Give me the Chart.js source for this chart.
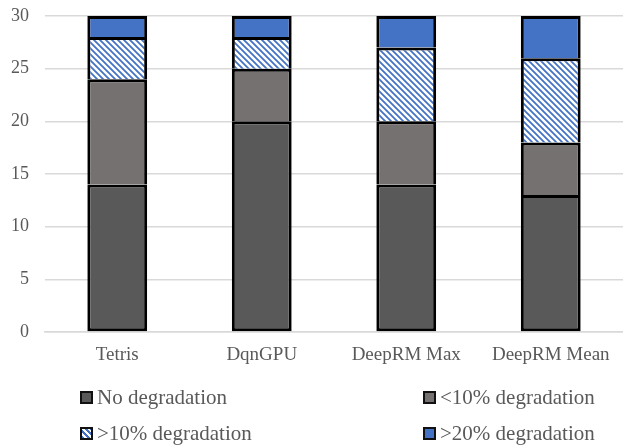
<!DOCTYPE html>
<html>
<head>
<meta charset="utf-8">
<script src="https://cdn.jsdelivr.net/npm/chart.js@4.4.1/dist/chart.umd.min.js"></script>
<style>
  html, body { margin: 0; padding: 0; background: #fff; }
  #wrap { position: relative; width: 623px; height: 446px; }
  #legend { position: absolute; left: 0; top: 0; width: 623px; height: 446px; pointer-events: none;
            font-family: "Liberation Serif", "Times New Roman", serif; font-size: 21px; color: #595959; }
  .item { position: absolute; display: flex; align-items: center; white-space: nowrap; }
  .box { width: 9px; height: 9px; border: 2px solid #111; margin-right: 4px; box-sizing: content-box; }
</style>
</head>
<body>
<div id="wrap">
  <canvas id="c" width="623" height="446"></canvas>
  <div id="legend"></div>
</div>
<script>
// Benchmarks and how many runs fall into each degradation bucket
const categories = ["Tetris", "DqnGPU", "DeepRM Max", "DeepRM Mean"];
const seriesNames = ["No degradation", "<10% degradation", ">10% degradation", ">20% degradation"];
const noDegradation = [14, 20, 14, 13];
const under10 = [10, 5, 6, 5];
const over10 = [4, 3, 7, 8];
const over20 = [2, 2, 3, 4];
const yTicks = [0, 5, 10, 15, 20, 25, 30];

// diagonal blue hatch for the ">10%" bucket
function hatch() {
  const s = 6;
  const p = document.createElement("canvas");
  p.width = s; p.height = s;
  const g = p.getContext("2d");
  g.fillStyle = "#ffffff";
  g.fillRect(0, 0, s, s);
  g.strokeStyle = "#4472C4";
  g.lineWidth = 1.8;
  g.beginPath();
  g.moveTo(-1, -1); g.lineTo(s + 1, s + 1);
  g.moveTo(-1, s - 1); g.lineTo(1, s + 1);
  g.moveTo(s - 1, -1); g.lineTo(s + 1, 1);
  g.stroke();
  return g.createPattern(p, "repeat");
}
const hatchFill = hatch();

const fills = ["#595959", "#767171", hatchFill, "#4472C4"];
const values = [noDegradation, under10, over10, over20];

const datasets = values.map((v, i) => ({
  label: seriesNames[i],
  data: v,
  backgroundColor: fills[i],
  borderColor: "#000000",
  borderWidth: i === 0 ? 3 : { top: 3, left: 3, right: 3, bottom: 0 },
  borderSkipped: false,
  categoryPercentage: 1,
  barPercentage: 0.414
}));

const serif = "'Liberation Serif', 'Times New Roman', serif";

new Chart(document.getElementById("c"), {
  type: "bar",
  data: { labels: categories, datasets },
  options: {
    responsive: false,
    animation: false,
    layout: { padding: { top: 16, right: 0, bottom: 0, left: 0 } },
    plugins: { legend: { display: false }, tooltip: { enabled: false } },
    scales: {
      x: {
        stacked: true,
        grid: { display: false, drawTicks: false },
        border: { display: true, color: "#d9d9d9", width: 1.5 },
        ticks: { color: "#595959", font: { family: serif, size: 19 }, padding: 12 },
        afterFit: (s) => { s.height = 114; s.paddingLeft = 0; s.paddingRight = 0; }
      },
      y: {
        stacked: true,
        min: 0, max: 30,
        afterBuildTicks: (s) => { s.ticks = yTicks.map(v => ({ value: v })); },
        grid: { color: "#d9d9d9", lineWidth: 1.5, drawTicks: false },
        border: { display: false },
        ticks: { color: "#595959", font: { family: serif, size: 18 }, padding: 16 },
        afterFit: (s) => { s.width = 45; s.paddingTop = 0; s.paddingBottom = 0; }
      }
    }
  }
});

// legend laid out as a two-column grid under the plot
const legendPos = [[80, 397], [423, 397], [80, 433], [423, 433]];
const legendFills = ["#595959", "#767171", null, "#4472C4"];
const lg = document.getElementById("legend");
seriesNames.forEach((name, i) => {
  const it = document.createElement("div");
  it.className = "item";
  it.style.left = legendPos[i][0] + "px";
  it.style.top = (legendPos[i][1] - 13) + "px";
  it.style.height = "26px";
  const b = document.createElement("span");
  b.className = "box";
  if (legendFills[i]) b.style.background = legendFills[i];
  else b.style.background = "repeating-linear-gradient(45deg, #4472C4 0 2px, #ffffff 2px 4px)";
  const t = document.createElement("span");
  t.textContent = name;
  it.appendChild(b); it.appendChild(t);
  lg.appendChild(it);
});
</script>
</body>
</html>
